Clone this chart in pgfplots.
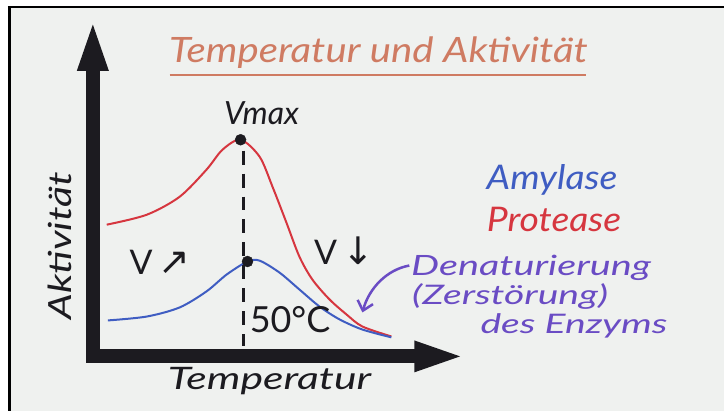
\documentclass[border=0pt]{standalone}
\usepackage{pgfplots}
\usepackage{pgfplotstable}
\pgfplotsset{compat=1.18}
\usetikzlibrary{arrows.meta}
\usepackage{fontspec}
\setmainfont{Lato}
\newfontfamily\sym{DejaVu Sans}
\newcommand\fs[2]{\fontsize{#1}{#1}\selectfont\itshape\addfontfeatures{FakeStretch=#2}}
\definecolor{bg}{HTML}{EFF1EF}
\definecolor{titlec}{HTML}{CF7B62}
\definecolor{redc}{HTML}{D6363F}
\definecolor{bluec}{HTML}{3F5DC2}
\definecolor{purc}{HTML}{6A4CC4}
\definecolor{ink}{HTML}{1C1B20}

\pgfplotstableread{
T A
4.6 60.8
17.9 65.4
28.8 73.7
37.7 86.2
43.0 95.4
49.0 100
55.3 92.2
59.6 78.3
64.2 61.8
68.5 46.1
72.8 35.5
78.5 26.3
84.1 19.4
89.4 13.8
99.0 9.2
}\protease

\pgfplotstableread{
T A
5.0 16.6
17.9 18.4
28.8 22.6
37.7 30.0
44.4 37.8
51.3 43.8
55.3 44.2
61.9 38.7
68.5 30.9
75.2 23.0
81.8 17.1
89.4 12.4
99.0 8.8
}\amylase

\begin{document}
\begin{tikzpicture}
\fill[white] (0,0) rectangle (725pt,412pt);
\begin{scope}[x=1pt,y=-1pt,shift={(0pt,412pt)}]
\fill[bg] (10,7) rectangle (725,412);
\draw[line width=2.5pt, black] (8,7) -- (725,7);
\draw[line width=2.5pt, black] (9.5,7) -- (9.5,412);
\end{scope}

\begin{axis}[
  at={(93pt,55pt)}, anchor=south west,
  scale only axis, width=374pt, height=339pt,
  xmin=0, xmax=123.84, ymin=0, ymax=156.22,
  axis lines=left, ticks=none,
  x axis line style={ink, line width=14pt, line cap=rect, -{Triangle[length=52pt,width=27pt]}},
  y axis line style={ink, line width=14pt, line cap=rect, -{Triangle[length=53pt,width=27pt]}},
  xlabel={Temperatur},
  ylabel={Aktivität},
  xlabel style={at={(axis description cs:0.473,-0.0973)}, anchor=base, font=\fs{31}{1.38}, text=ink},
  ylabel style={at={(axis description cs:-0.056,0.327)}, anchor=base, font=\fs{32}{1.28}, text=ink},
  clip=false,
]
\addplot[redc, line width=2pt, smooth] table[x=T, y=A] {\protease};
\addplot[bluec, line width=2pt, smooth] table[x=T, y=A] {\amylase};
\addplot[ink, line width=2.5pt, dash pattern=on 14pt off 9pt] coordinates {(50,95) (50,5)};
\addplot[only marks, mark=*, mark size=5.5pt, ink] coordinates {(49,100) (51.3,43.8)};
\end{axis}

\begin{scope}[x=1pt,y=-1pt,shift={(0pt,412pt)}]
% title
\node[anchor=base, text=titlec, font=\fs{35}{1.15}] at (379,63) {Temperatur und Aktivität};
\draw[titlec, line width=2pt] (170,75) -- (587,75);
% Vmax
\node[anchor=base, text=ink, font=\fs{32}{1.0}] at (262,125) {Vmax};
% legend-like labels
\node[anchor=base, text=bluec, font=\fs{34}{1.1}] at (553,190) {Amylase};
\node[anchor=base, text=redc, font=\fs{34}{1.1}] at (555,232) {Protease};
\node[anchor=base, text=purc, font=\fs{28}{1.42}] at (532,276) {Denaturierung};
\node[anchor=base, text=purc, font=\fs{27}{1.45}] at (511,305) {(Zerstörung)};
\node[anchor=base, text=purc, font=\fs{27}{1.45}] at (575,334) {des Enzyms};
% V arrows
\node[anchor=base, text=ink, font=\fontsize{34}{36}\selectfont, inner sep=0pt] at (160,275) {V\,{\sym\fontsize{38}{38}\selectfont ↗}};
\node[anchor=base, text=ink, font=\fontsize{34}{36}\selectfont, inner sep=0pt] at (345,265) {V\,{\sym\fontsize{38}{38}\selectfont ↓}};
% 50 C
\node[anchor=base west, text=ink, font=\fontsize{36}{40}\selectfont, inner sep=0pt] at (250,333) {50°C};
% purple arrow
\draw[purc, line width=2.5pt, -{Straight Barb[length=9pt,width=16pt]}] (410,266) .. controls (388,270) and (370,288) .. (363,313);
\end{scope}
\end{tikzpicture}
\end{document}
